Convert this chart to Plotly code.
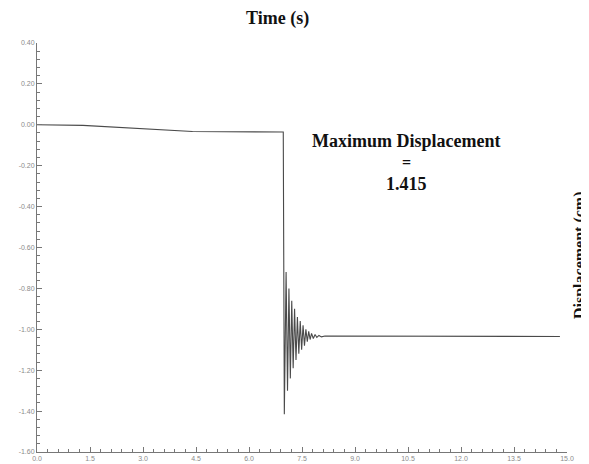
import plotly.graph_objects as go

# Time (s) and displacement values
time_s = [0.0, 1.3, 4.4, 6.97, 7.00, 7.05, 7.09, 7.13, 7.17, 7.21, 7.25, 7.29, 7.33,
          7.37, 7.41, 7.45, 7.49, 7.53, 7.57, 7.61, 7.65, 7.69, 7.73, 7.77, 7.82,
          7.87, 7.92, 7.98, 8.05, 8.15, 14.8]
displacement = [0.0, -0.003, -0.033, -0.035, -1.415, -0.72, -1.30, -0.80, -1.24, -0.86,
                -1.19, -0.90, -1.15, -0.94, -1.12, -0.96, -1.10, -0.98, -1.08, -1.00,
                -1.06, -1.01, -1.05, -1.02, -1.045, -1.025, -1.04, -1.03, -1.037,
                -1.033, -1.035]

x_ticks = [0.0, 1.5, 3.0, 4.5, 6.0, 7.5, 9.0, 10.5, 12.0, 13.5, 15.0]
x_labels = ["0.0", "1.5", "3.0", "4.5", "6.0", "7.5", "9.0", "10.5", "12.0", "13.5", "15.0"]
y_ticks = [0.4, 0.2, 0.0, -0.2, -0.4, -0.6, -0.8, -1.0, -1.2, -1.4, -1.6]
y_labels = ["0.40", "0.20", "0.00", "-0.20", "-0.40", "-0.60", "-0.80", "-1.00",
            "-1.20", "-1.40", "-1.60"]

fig = go.Figure()
fig.add_trace(go.Scatter(x=time_s, y=displacement, mode="lines",
                         line=dict(color="#4a4a4a", width=1.1), showlegend=False))

serif = "Liberation Serif, Times New Roman, serif"
tickfont = dict(family="Liberation Sans, Arial, sans-serif", size=7, color="#8a8a8a")

OFF = 8  # default page body margin
FW, FH = 589 - OFF, 464 - OFF
L, R, T, B = 37 - OFF, 567 - OFF, 43 - OFF, 452 - OFF
W, H = R - L, B - T


def px(x):
    return (x - OFF - L) / W


def py(y):
    return (B - (y - OFF)) / H


def label(text, x, y, size, angle=0):
    return dict(text=text, xref="paper", yref="paper", x=px(x), y=py(y),
                xanchor="center", yanchor="middle", textangle=angle, showarrow=False,
                font=dict(family=serif, size=size, color="#111111"))


fig.update_layout(
    width=FW, height=FH, autosize=False,
    paper_bgcolor="white", plot_bgcolor="white",
    margin=dict(l=L, r=FW - R, t=T, b=FH - B),
    xaxis=dict(range=[0, 15], tickvals=x_ticks, ticktext=x_labels, ticks="inside",
               ticklen=5, tickcolor="#777777", tickfont=tickfont, showgrid=False,
               zeroline=False, showline=True, linecolor="#777777", linewidth=1,
               automargin=False,
               minor=dict(dtick=0.3, ticks="inside", ticklen=3, tickcolor="#777777")),
    yaxis=dict(range=[-1.6, 0.4], tickvals=y_ticks, ticktext=y_labels, ticks="inside",
               ticklen=5, tickcolor="#777777", tickfont=tickfont, showgrid=False,
               zeroline=False, showline=True, linecolor="#777777", linewidth=1,
               automargin=False,
               minor=dict(dtick=0.04, ticks="inside", ticklen=3, tickcolor="#777777")),
    annotations=[
        label("<b>Time (s)</b>", 277, 18, 18),
        label("<b>Displacement (cm)</b>", 580, 255, 16, -90),
        label("<b>Maximum Displacement</b>", 406, 141, 18),
        label("<b>=</b>", 406, 162, 16),
        label("<b>1.415</b>", 406, 184, 18),
    ],
)

fig.write_html("out.html")
